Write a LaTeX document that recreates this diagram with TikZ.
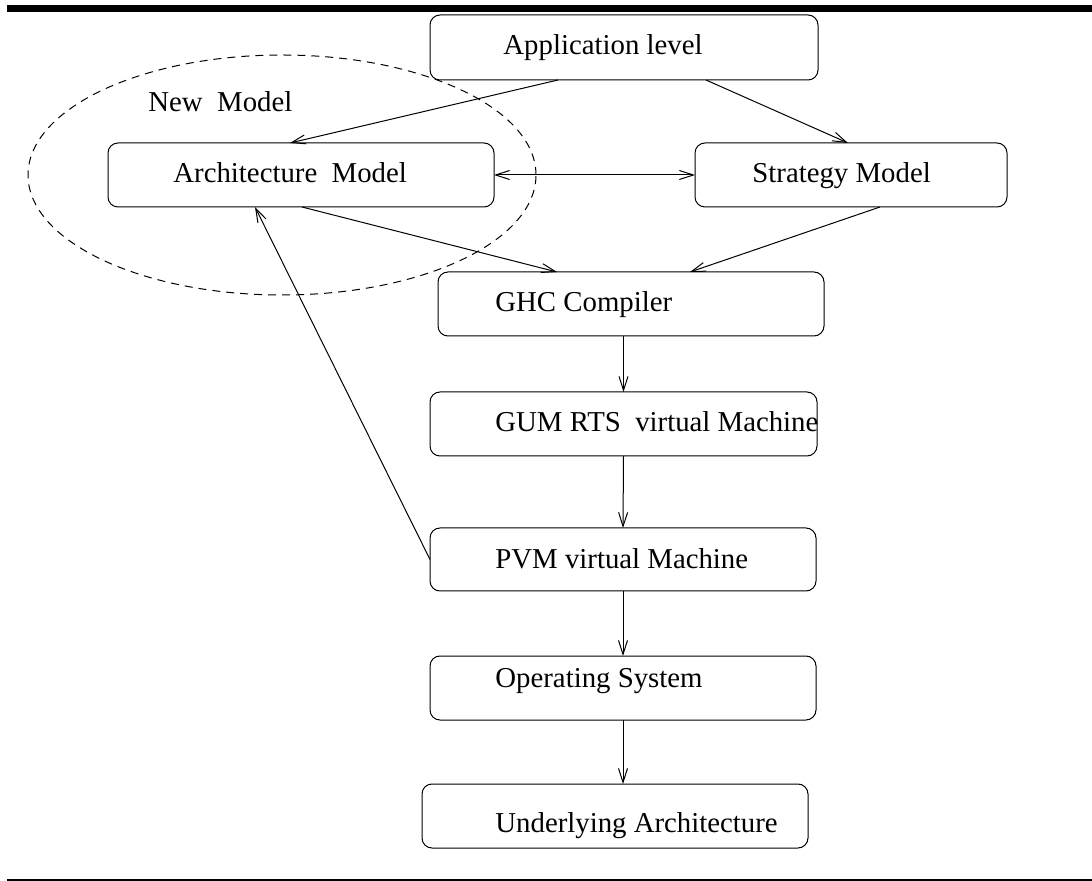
\documentclass[tikz,border=0pt]{standalone}
\usepackage{fontspec}
\setmainfont{Liberation Serif}
\usetikzlibrary{arrows.meta,calc}
\tikzset{
  box/.style={draw, rounded corners=5pt, line width=0.5pt, inner sep=0pt, outer sep=0pt},
  lbl/.style={anchor=base west, inner sep=0pt, font=\fontsize{14.4}{17}\selectfont},
  conn/.style={line width=0.5pt, -{Straight Barb[length=7pt,width=4.5pt]}},
  biconn/.style={line width=0.5pt, {Straight Barb[length=7pt,width=4.5pt]}-{Straight Barb[length=7pt,width=4.5pt]}},
}
\begin{document}
\begin{tikzpicture}[x=0.5pt,y=-0.5pt]
\useasboundingbox (0,0) rectangle (1092,881);
% rules
\fill (7,5) rectangle (1092,12);
\draw[line width=1pt] (7,879.5) -- (1092,879.5);
% dashed ellipse
\draw[line width=0.5pt, dash pattern=on 4pt off 3pt] (282,175) ellipse [x radius=127pt, y radius=60pt];
% boxes
\node[box, minimum width=194pt, minimum height=32.5pt] (app) at (624,47.5) {};
\node[box, minimum width=193pt, minimum height=32pt] (arch) at (301,175) {};
\node[box, minimum width=156pt, minimum height=32pt] (strat) at (851,175) {};
\node[box, minimum width=193pt, minimum height=32pt] (ghc) at (631,304) {};
\node[box, minimum width=193.5pt, minimum height=32pt] (gum) at (623.5,424) {};
\node[box, minimum width=193pt, minimum height=31.5pt] (pvm) at (623,559.5) {};
\node[box, minimum width=193pt, minimum height=32pt] (os) at (623,688) {};
\node[box, minimum width=193pt, minimum height=32pt] (ua) at (615,816) {};
% labels
\node[lbl] (tapp) at (503,55) {Application level};
\node[lbl] (tnew) at (148,112) {New\ \ Model};
\node[lbl] (tarch) at (173,183) {Architecture\ \ Model};
\node[lbl] (tstrat) at (752,183) {Strategy Model};
\node[lbl] (tghc) at (495,312) {GHC Compiler};
\node[lbl] (tgum) at (495,432) {GUM RTS\ \ virtual Machine};
\node[lbl] (tpvm) at (495,568) {PVM virtual Machine};
\node[lbl] (tos) at (495,687) {Operating System};
\node[lbl] (tua) at (495,832) {Underlying Architecture};
% connectors
\draw[conn] ($(app.south west)+(128,0)$) -- ($(arch.north west)+(182,0)$);
\draw[conn] ($(app.south west)+(276,0)$) -- ($(strat.north west)+(153,0)$);
\draw[biconn] (arch.east) -- (strat.west);
\draw[conn] ($(arch.south west)+(194,0)$) -- ($(ghc.north west)+(119,0)$);
\draw[conn] ($(strat.south west)+(185,0)$) -- ($(ghc.north west)+(252,0)$);
\draw[conn] (ghc.south -| gum.north) -- (gum.north);
\draw[conn] (gum.south) -- (pvm.north);
\draw[conn] (pvm.south) -- (os.north);
\draw[conn] (os.south) -- (ua.north -| os.south);
\draw[conn] (pvm.west) -- ($(arch.south west)+(147,0)$);
\end{tikzpicture}
\end{document}
